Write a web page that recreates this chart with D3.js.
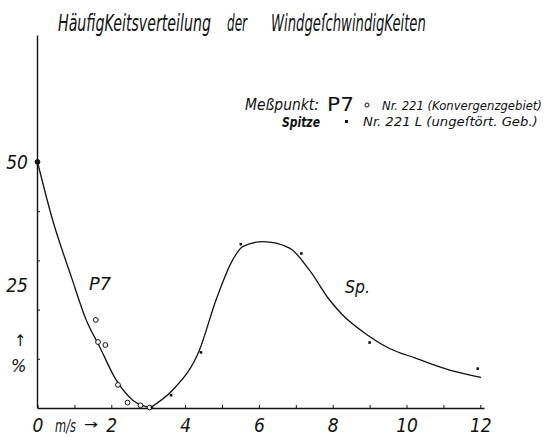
<!DOCTYPE html>
<html><head><meta charset="utf-8">
<script src="https://cdn.jsdelivr.net/npm/d3@7"></script>
<style>
body{margin:0;background:#fff;}
svg text{font-family:"DejaVu Sans Condensed","DejaVu Sans",sans-serif;font-style:italic;fill:#111;}
</style></head>
<body><svg id="c" width="544" height="437"></svg>
<script>
// P7 measured points (m/s, %)
const p7X = [0, 1.58, 1.64, 1.84, 2.18, 2.44, 2.79, 3.04];
const p7Y = [50, 17.9, 13.4, 12.8, 4.7, 1.1, 0.55, 0.1];
// P7 drawn curve
const p7CurveX = [0, 0.41, 0.91, 1.32, 1.68, 2.13, 2.58, 3.04];
const p7CurveY = [50, 38.2, 26.8, 17.9, 12.5, 5.7, 1.6, 0.1];
// Spitze measured points
const spX = [3.1, 3.62, 4.43, 5.51, 7.15, 9.0, 11.93];
const spY = [0.1, 2.6, 11.3, 33.3, 31.4, 13.3, 8.0];
// Spitze drawn curve
const spCurveX = [3.04, 3.67, 4.39, 4.84, 5.29, 5.56, 6.11, 6.83, 7.37, 7.91, 8.27, 8.91, 9.54, 10.26, 11.17, 12.02];
const spCurveY = [0, 3.7, 11.8, 22.0, 30.1, 32.8, 33.8, 32.5, 28.0, 22.0, 18.9, 15.0, 12.1, 10.1, 7.7, 6.2];
// axis ticks
const xTicks = [0,1,2,3,4,5,6,7,8,9,10,11,12];
const xLabels = ["0","","2","","4","","6","","8","","10","","12"];
const yMinorTicks = [10,20,30,40];
const yLabelTicks = [25,50];

const FONT = '"DejaVu Sans Condensed","DejaVu Sans",sans-serif';
const svg = d3.select("#c");
const x = d3.scaleLinear().domain([0,12.1]).range([37.5,484]);
const y = d3.scaleLinear().domain([0,75.8]).range([408,35]);

// text fitted to a width by horizontal scaling
function fitText(str, px, py, size, width, opts={}) {
  const t = svg.append("text").attr("font-size", size).text(str);
  if (opts.normal) t.style("font-style","normal");
  if (opts.bold) t.attr("font-weight","bold");
  const w = t.node().getComputedTextLength();
  const sx = width / w;
  t.attr("transform", `translate(${px},${py}) scale(${sx},1)`);
  return t;
}

// axes
const gx = svg.append("g").attr("transform","translate(0,408)")
  .call(d3.axisBottom(x).tickValues(xTicks).tickSize(-3).tickSizeOuter(0).tickPadding(0)
    .tickFormat((d,i)=>xLabels[i]));
gx.attr("font-family",FONT);
gx.select(".domain").attr("stroke","#111").attr("stroke-width",1.6);
gx.selectAll(".tick line").attr("stroke","#111").attr("stroke-width",1);
gx.selectAll(".tick text").attr("font-size",19).attr("y",24).attr("dy",null);

const gy = svg.append("g").attr("transform","translate(37,0)")
  .call(d3.axisLeft(y).tickValues(yMinorTicks).tickSize(-3).tickSizeOuter(0).tickFormat(""));
gy.select(".domain").attr("stroke","#111").attr("stroke-width",1.4);
gy.selectAll(".tick line").attr("stroke","#111");
const gy2 = svg.append("g").attr("transform","translate(28,0)")
  .call(d3.axisLeft(y).tickValues(yLabelTicks).tickSize(0).tickPadding(0));
gy2.attr("font-family",FONT);
gy2.select(".domain").remove();
gy2.selectAll(".tick text").attr("font-size",19);

fitText("m/s", 55, 432, 17, 21);
fitText("→", 84, 429, 14, 14, {normal:true});
svg.append("text").attr("x",14).attr("y",346).attr("font-size",16).style("font-style","normal").text("↑");
svg.append("text").attr("x",11).attr("y",372).attr("font-size",18).text("%");

// curves
const line = d3.line().x(d=>x(d[0])).y(d=>y(d[1])).curve(d3.curveMonotoneX);
svg.append("path").datum(d3.zip(p7CurveX,p7CurveY)).attr("d",line)
  .attr("fill","none").attr("stroke","#111").attr("stroke-width",1.3);
svg.append("path").datum(d3.zip(spCurveX,spCurveY)).attr("d",line)
  .attr("fill","none").attr("stroke","#111").attr("stroke-width",1.3);

// points
svg.selectAll(".p7").data(d3.zip(p7X,p7Y)).join("circle")
  .attr("cx",d=>x(d[0])).attr("cy",d=>y(d[1])).attr("r",2.4)
  .attr("fill",(d,i)=>i===0?"#111":"#fff").attr("stroke","#111").attr("stroke-width",1);
svg.selectAll(".sp").data(d3.zip(spX,spY)).join("rect")
  .attr("x",d=>x(d[0])-1.3).attr("y",d=>y(d[1])-1.3).attr("width",2.6).attr("height",2.6).attr("fill","#111");

// labels
fitText("P7", 89, 290, 17, 22);
fitText("Sp.", 345, 293, 18, 25);

// title
const titleParts = ["HäufigKeitsverteilung", "der", "WindgeſchwindigKeiten"];
const titleX = [58, 227, 271], titleW = [153, 20, 155];
titleParts.forEach((t,i)=>fitText(t, titleX[i], 31, 23, titleW[i]));

// legend
fitText("Meßpunkt:", 245, 110, 16, 74);
fitText("P7", 327, 111, 20, 27, {normal:true});
svg.append("circle").attr("cx",367).attr("cy",105).attr("r",2).attr("fill","#fff").attr("stroke","#111");
fitText("Nr. 221 (Konvergenzgebiet)", 382, 110, 13, 160);
fitText("Spitze", 282, 127, 14, 38, {bold:true});
svg.append("rect").attr("x",345).attr("y",120).attr("width",3).attr("height",3).attr("fill","#111");
fitText("Nr. 221 L (ungeſtört. Geb.)", 363, 126, 13, 175);
</script></body></html>
